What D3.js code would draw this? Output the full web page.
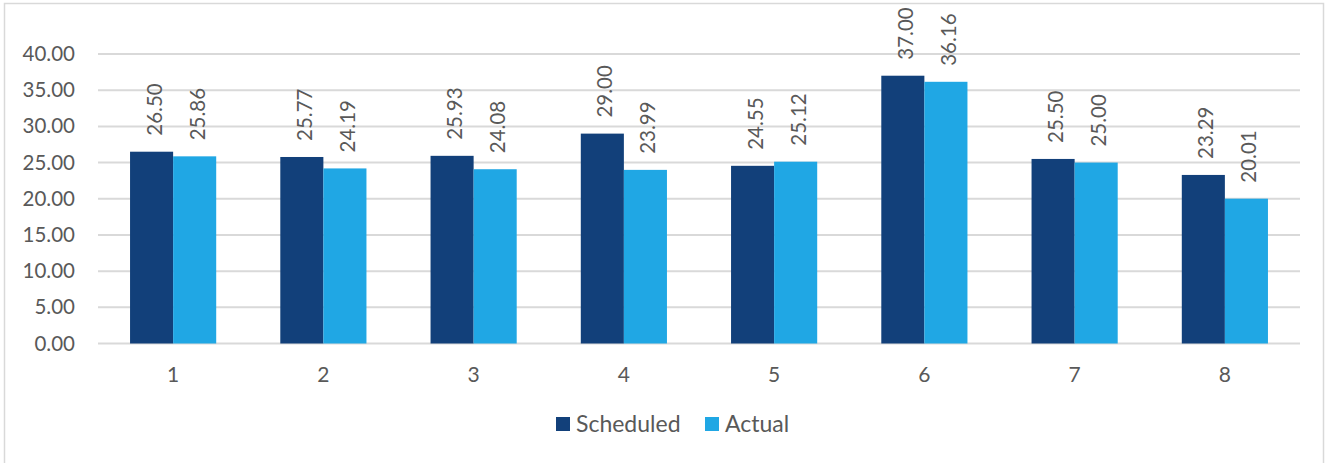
<!DOCTYPE html>
<html>
<head>
<meta charset="utf-8">
<script src="https://cdn.jsdelivr.net/npm/d3@7"></script>
<style>
  html, body { margin: 0; padding: 0; background: #fff; }
  svg { display: block; }
  text { font-family: "Lato", "Noto Sans", sans-serif; fill: #595959; }
</style>
</head>
<body>
<svg id="chart" width="1328" height="463"></svg>
<script>
// Chart data
const categories = ["1", "2", "3", "4", "5", "6", "7", "8"];
const scheduled = [26.50, 25.77, 25.93, 29.00, 24.55, 37.00, 25.50, 23.29];
const actual    = [25.86, 24.19, 24.08, 23.99, 25.12, 36.16, 25.00, 20.01];
const seriesNames = ["Scheduled", "Actual"];
const yTicks = [0, 5, 10, 15, 20, 25, 30, 35, 40];
const colors = ["#12407A", "#20A7E4"];

const svg = d3.select("#chart");
const W = 1328, H = 463;
const margin = { left: 98, right: 28, top: 54, bottom: 119.5 };
const plotW = W - margin.left - margin.right;
const plotH = H - margin.top - margin.bottom;

// Outer chart frame
svg.append("rect")
  .attr("x", 4.5).attr("y", 3.5)
  .attr("width", 1319).attr("height", 470)
  .attr("fill", "#fff").attr("stroke", "#D9D9D9").attr("stroke-width", 1.5);

const g = svg.append("g").attr("transform", `translate(${margin.left},${margin.top})`);

const x0 = d3.scaleBand().domain(categories).range([0, plotW]).paddingInner(0).paddingOuter(0);
const x1 = d3.scaleBand().domain(seriesNames).range([0, x0.bandwidth()]).paddingInner(0).paddingOuter(0.744);
const y = d3.scaleLinear().domain([0, 40]).range([plotH, 0]);

// Gridlines
g.append("g").selectAll("line").data(yTicks).join("line")
  .attr("x1", 0).attr("x2", plotW)
  .attr("y1", d => y(d)).attr("y2", d => y(d))
  .attr("stroke", "#D9D9D9").attr("stroke-width", 2);

// Y axis labels
const yAxis = d3.axisLeft(y).tickValues(yTicks).tickFormat(d3.format(".2f")).tickSize(0).tickPadding(23);
g.append("g").call(yAxis)
  .call(a => a.select(".domain").remove())
  .selectAll("text")
  .style("font-size", "20.5px").attr("fill", "#595959");

// X axis labels
const xAxis = d3.axisBottom(x0).tickSize(0).tickPadding(24);
g.append("g").attr("transform", `translate(0,${plotH})`).call(xAxis)
  .call(a => a.select(".domain").remove())
  .selectAll("text")
  .style("font-size", "21px").attr("fill", "#595959");

const rows = categories.map((c, i) => ({
  cat: c,
  vals: [ { s: seriesNames[0], v: scheduled[i], c: colors[0] },
          { s: seriesNames[1], v: actual[i],    c: colors[1] } ]
}));

const groups = g.append("g").selectAll("g").data(rows).join("g")
  .attr("transform", d => `translate(${x0(d.cat)},0)`);

groups.selectAll("rect").data(d => d.vals).join("rect")
  .attr("x", d => x1(d.s))
  .attr("y", d => y(d.v))
  .attr("width", x1.bandwidth())
  .attr("height", d => plotH - y(d.v))
  .attr("fill", d => d.c);

// Value labels, rotated vertically above each bar
groups.selectAll("text.val").data(d => d.vals).join("text")
  .attr("class", "val")
  .attr("transform", d => `translate(${x1(d.s) + x1.bandwidth() / 2 + 10},${y(d.v) - 16}) rotate(-90)`)
  .attr("text-anchor", "start")
  .style("font-size", "20.5px")
  .text(d => d3.format(".2f")(d.v));

// Legend
const legend = svg.append("g").attr("transform", "translate(556,417)");
const items = [{ n: seriesNames[0], c: colors[0], x: 0 }, { n: seriesNames[1], c: colors[1], x: 149 }];
const li = legend.selectAll("g").data(items).join("g").attr("transform", d => `translate(${d.x},0)`);
li.append("rect").attr("width", 14).attr("height", 14).attr("fill", d => d.c);
li.append("text").attr("x", 20).attr("y", 15).style("font-size", "23px").text(d => d.n);
</script>
</body>
</html>
